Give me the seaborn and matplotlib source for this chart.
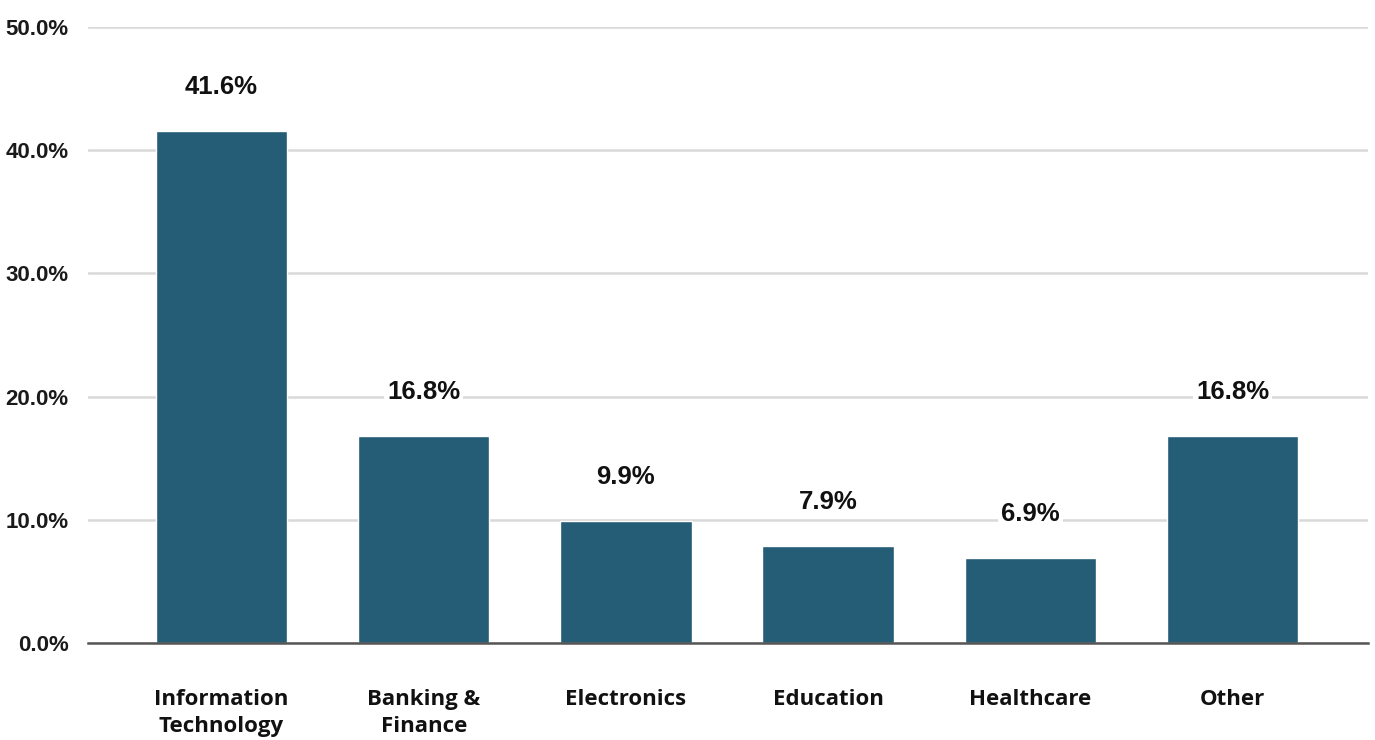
import matplotlib
matplotlib.use("Agg")
import matplotlib.pyplot as plt
import seaborn as sns
import pandas as pd

categories = ["Information\nTechnology", "Banking &\nFinance", "Electronics", "Education", "Healthcare", "Other"]
values = [41.6, 16.8, 9.9, 7.9, 6.9, 16.8]
yticks = [0, 10, 20, 30, 40, 50]

sns.set_theme(style="white")
plt.rcParams['font.family'] = ['Liberation Sans', 'DejaVu Sans']

df = pd.DataFrame({"cat": categories, "val": values})

fig = plt.figure(figsize=(13.75, 7.4), dpi=100)
ax = fig.add_axes([0.064, 0.131, 0.931, 0.8325])

sns.barplot(data=df, x="cat", y="val", color="#255C76", saturation=1, width=0.65, ax=ax, zorder=3)

ax.set_ylim(0, 50)
ax.set_xlim(-0.66, 5.67)
ax.set_yticks(yticks)
ax.set_yticklabels([f"{v:.1f}%" for v in yticks], fontsize=16, fontweight="bold", color="#1a1a1a")
ax.set_xticks(range(len(categories)))
ax.set_xticklabels(categories, fontsize=16, fontweight="bold", family=["Open Sans", "DejaVu Sans"], color="#111111", linespacing=1.4)
ax.tick_params(axis="y", length=0, pad=14)
ax.tick_params(axis="x", length=0, pad=33)
ax.set_xlabel("")
ax.set_ylabel("")

ax.yaxis.grid(True, color="#d9d9d9", linewidth=1.8, zorder=0)
ax.set_axisbelow(True)
for s in ["top", "right", "left"]:
    ax.spines[s].set_visible(False)
ax.spines["bottom"].set_color("#555555")
ax.spines["bottom"].set_linewidth(1.8)
ax.spines["bottom"].set_zorder(4)

for i, v in enumerate(values):
    ax.annotate(f"{v:.1f}%", xy=(i, v), xytext=(0, 31.5), textcoords="offset points",
                ha="center", va="center", fontsize=18.5, fontweight="bold", color="#111111",
                bbox=dict(facecolor="white", edgecolor="none", pad=2), zorder=5)

fig.savefig("out.png", dpi=100, facecolor="white")
